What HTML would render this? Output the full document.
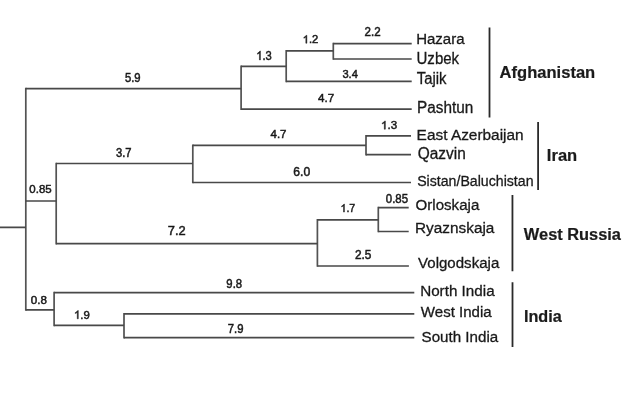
<!DOCTYPE html><html><head><meta charset="utf-8"><style>html,body{margin:0;padding:0;background:#fff;width:640px;height:406px;overflow:hidden}svg{display:block}text{font-family:"Liberation Sans",sans-serif}</style></head><body>
<svg width="640" height="406" viewBox="0 0 640 406">
<defs><filter id="b" x="0" y="0" width="1" height="1"><feGaussianBlur stdDeviation="0.5"/></filter></defs><g filter="url(#b)">
<rect width="640" height="406" fill="#fff"/>
<path d="M25.8 87.75V310.85M241.1 65.55V109.95M286.2 49.95V82.15M333.3 42.85V59.85M56.2 162.65V244.45M192.8 144.45V183.35M366 134.95V155.55M317.4 218.95V266.85M378.3 206.75V232.35M54.1 291.85V326.15M124.0 313.05V338.45" stroke="#525252" stroke-width="1.7" fill="none"/>
<path d="M0.00 227.4H25.8M25.80 88.6H241.1M241.10 66.4H286.2M286.20 50.8H333.3M333.30 43.7H411.7M333.30 59.0H411.7M286.20 81.3H411.7M241.10 109.1H411.7M25.80 201H56.2M56.20 163.5H192.8M192.80 145.3H366M366.00 135.8H411M366.00 154.7H411M192.80 182.5H411M56.20 243.6H317.4M317.40 219.8H378.3M378.30 207.6H408.7M378.30 231.5H408.7M317.40 266.0H408.9M25.80 309.9H54.1M54.10 292.7H414.3M54.10 325.3H124.0M124.00 313.9H414.3M124.00 337.6H414.3" stroke="#484848" stroke-width="1.7" fill="none"/>
<path d="M489.5 27.6V117.5M538.1 121.9V189.9M512.45 195.0V271.2M512.5 282.3V346.9" stroke="#2a2a2a" stroke-width="1.8" fill="none"/>
<text x="124.95" y="82.00" font-size="12.6" fill="#1a1a1a" stroke="#1a1a1a" stroke-width="0.5" textLength="15.68" lengthAdjust="spacingAndGlyphs">5.9</text>
<path transform="translate(256.25,59.90) scale(0.00546,-0.00610)" d="M763 0H583V1147Q518 1085 412 1023T223 930V1104Q381 1178 499 1284T667 1466H763Z" fill="#1a1a1a" stroke="#1a1a1a" stroke-width="81.92"/>
<text x="256.25" y="59.90" font-size="12.5" fill="#1a1a1a" stroke="#1a1a1a" stroke-width="0.5" textLength="15.54" lengthAdjust="spacingAndGlyphs"> .3</text>
<path transform="translate(302.65,43.20) scale(0.00549,-0.00537)" d="M763 0H583V1147Q518 1085 412 1023T223 930V1104Q381 1178 499 1284T667 1466H763Z" fill="#1a1a1a" stroke="#1a1a1a" stroke-width="93.09"/>
<text x="302.65" y="43.20" font-size="11.0" fill="#1a1a1a" stroke="#1a1a1a" stroke-width="0.5" textLength="15.62" lengthAdjust="spacingAndGlyphs"> .2</text>
<text x="364.52" y="36.40" font-size="11.9" fill="#1a1a1a" stroke="#1a1a1a" stroke-width="0.5" textLength="16.06" lengthAdjust="spacingAndGlyphs">2.2</text>
<text x="342.38" y="77.50" font-size="11.6" fill="#1a1a1a" stroke="#1a1a1a" stroke-width="0.5" textLength="15.45" lengthAdjust="spacingAndGlyphs">3.4</text>
<text x="318.03" y="102.10" font-size="11.3" fill="#1a1a1a" stroke="#1a1a1a" stroke-width="0.5" textLength="16.15" lengthAdjust="spacingAndGlyphs">4.7</text>
<text x="29.35" y="192.60" font-size="11.8" fill="#1a1a1a" stroke="#1a1a1a" stroke-width="0.5" textLength="22.33" lengthAdjust="spacingAndGlyphs">0.85</text>
<text x="115.98" y="157.00" font-size="11.9" fill="#1a1a1a" stroke="#1a1a1a" stroke-width="0.5" textLength="15.53" lengthAdjust="spacingAndGlyphs">3.7</text>
<text x="270.54" y="137.80" font-size="11.2" fill="#1a1a1a" stroke="#1a1a1a" stroke-width="0.5" textLength="15.94" lengthAdjust="spacingAndGlyphs">4.7</text>
<path transform="translate(381.02,129.20) scale(0.00565,-0.00562)" d="M763 0H583V1147Q518 1085 412 1023T223 930V1104Q381 1178 499 1284T667 1466H763Z" fill="#1a1a1a" stroke="#1a1a1a" stroke-width="89.04"/>
<text x="381.02" y="129.20" font-size="11.5" fill="#1a1a1a" stroke="#1a1a1a" stroke-width="0.5" textLength="16.09" lengthAdjust="spacingAndGlyphs"> .3</text>
<text x="293.28" y="175.70" font-size="12.8" fill="#1a1a1a" stroke="#1a1a1a" stroke-width="0.5" textLength="16.90" lengthAdjust="spacingAndGlyphs">6.0</text>
<text x="167.74" y="235.40" font-size="13.4" fill="#1a1a1a" stroke="#1a1a1a" stroke-width="0.5" textLength="17.90" lengthAdjust="spacingAndGlyphs">7.2</text>
<path transform="translate(340.49,212.05) scale(0.00518,-0.00547)" d="M763 0H583V1147Q518 1085 412 1023T223 930V1104Q381 1178 499 1284T667 1466H763Z" fill="#1a1a1a" stroke="#1a1a1a" stroke-width="91.43"/>
<text x="340.49" y="212.05" font-size="11.2" fill="#1a1a1a" stroke="#1a1a1a" stroke-width="0.5" textLength="14.74" lengthAdjust="spacingAndGlyphs"> .7</text>
<text x="385.85" y="202.55" font-size="12.4" fill="#1a1a1a" stroke="#1a1a1a" stroke-width="0.5" textLength="22.23" lengthAdjust="spacingAndGlyphs">0.85</text>
<text x="354.91" y="259.00" font-size="11.9" fill="#1a1a1a" stroke="#1a1a1a" stroke-width="0.5" textLength="16.49" lengthAdjust="spacingAndGlyphs">2.5</text>
<text x="30.85" y="303.60" font-size="11.7" fill="#1a1a1a" stroke="#1a1a1a" stroke-width="0.5" textLength="16.15" lengthAdjust="spacingAndGlyphs">0.8</text>
<text x="226.37" y="287.80" font-size="12.4" fill="#1a1a1a" stroke="#1a1a1a" stroke-width="0.5" textLength="15.72" lengthAdjust="spacingAndGlyphs">9.8</text>
<path transform="translate(74.04,318.80) scale(0.00555,-0.00562)" d="M763 0H583V1147Q518 1085 412 1023T223 930V1104Q381 1178 499 1284T667 1466H763Z" fill="#1a1a1a" stroke="#1a1a1a" stroke-width="89.04"/>
<text x="74.04" y="318.80" font-size="11.5" fill="#1a1a1a" stroke="#1a1a1a" stroke-width="0.5" textLength="15.80" lengthAdjust="spacingAndGlyphs"> .9</text>
<text x="227.82" y="333.30" font-size="12.2" fill="#1a1a1a" stroke="#1a1a1a" stroke-width="0.5" textLength="15.71" lengthAdjust="spacingAndGlyphs">7.9</text>
<text x="416.17" y="44.30" font-size="15.2" fill="#1a1a1a" stroke="#1a1a1a" stroke-width="0.3" textLength="48.43" lengthAdjust="spacingAndGlyphs">Hazara</text>
<text x="416.54" y="64.20" font-size="16.0" fill="#1a1a1a" stroke="#1a1a1a" stroke-width="0.3" textLength="42.55" lengthAdjust="spacingAndGlyphs">Uzbek</text>
<text x="416.77" y="83.60" font-size="16.0" fill="#1a1a1a" stroke="#1a1a1a" stroke-width="0.3" textLength="29.70" lengthAdjust="spacingAndGlyphs">Tajik</text>
<text x="417.04" y="113.00" font-size="15.6" fill="#1a1a1a" stroke="#1a1a1a" stroke-width="0.3" textLength="56.26" lengthAdjust="spacingAndGlyphs">Pashtun</text>
<text x="416.64" y="140.10" font-size="15.2" fill="#1a1a1a" stroke="#1a1a1a" stroke-width="0.3" textLength="107.06" lengthAdjust="spacingAndGlyphs">East Azerbaijan</text>
<text x="417.77" y="158.90" font-size="15.6" fill="#1a1a1a" stroke="#1a1a1a" stroke-width="0.3" textLength="48.03" lengthAdjust="spacingAndGlyphs">Qazvin</text>
<text x="417.15" y="185.50" font-size="15.2" fill="#1a1a1a" stroke="#1a1a1a" stroke-width="0.3" textLength="116.37" lengthAdjust="spacingAndGlyphs">Sistan/Baluchistan</text>
<text x="415.59" y="210.00" font-size="15.2" fill="#1a1a1a" stroke="#1a1a1a" stroke-width="0.3" textLength="63.70" lengthAdjust="spacingAndGlyphs">Orloskaja</text>
<text x="415.04" y="232.90" font-size="15.2" fill="#1a1a1a" stroke="#1a1a1a" stroke-width="0.3" textLength="79.36" lengthAdjust="spacingAndGlyphs">Ryaznskaja</text>
<text x="418.07" y="268.40" font-size="15.2" fill="#1a1a1a" stroke="#1a1a1a" stroke-width="0.3" textLength="81.23" lengthAdjust="spacingAndGlyphs">Volgodskaja</text>
<text x="420.15" y="295.60" font-size="15.2" fill="#1a1a1a" stroke="#1a1a1a" stroke-width="0.3" textLength="74.46" lengthAdjust="spacingAndGlyphs">North India</text>
<text x="420.82" y="316.80" font-size="15.2" fill="#1a1a1a" stroke="#1a1a1a" stroke-width="0.3" textLength="70.88" lengthAdjust="spacingAndGlyphs">West India</text>
<text x="421.60" y="342.10" font-size="15.2" fill="#1a1a1a" stroke="#1a1a1a" stroke-width="0.3" textLength="76.61" lengthAdjust="spacingAndGlyphs">South India</text>
<text x="499.59" y="77.60" font-size="16.6" font-weight="bold" fill="#1a1a1a" stroke="#1a1a1a" stroke-width="0.2" textLength="95.64" lengthAdjust="spacingAndGlyphs">Afghanistan</text>
<text x="546.89" y="161.10" font-size="16.4" font-weight="bold" fill="#1a1a1a" stroke="#1a1a1a" stroke-width="0.2" textLength="30.33" lengthAdjust="spacingAndGlyphs">Iran</text>
<text x="523.88" y="239.60" font-size="15.8" font-weight="bold" fill="#1a1a1a" stroke="#1a1a1a" stroke-width="0.2" textLength="97.02" lengthAdjust="spacingAndGlyphs">West Russia</text>
<text x="523.91" y="321.80" font-size="15.8" font-weight="bold" fill="#1a1a1a" stroke="#1a1a1a" stroke-width="0.2" textLength="37.80" lengthAdjust="spacingAndGlyphs">India</text>
</g>
</svg></body></html>
